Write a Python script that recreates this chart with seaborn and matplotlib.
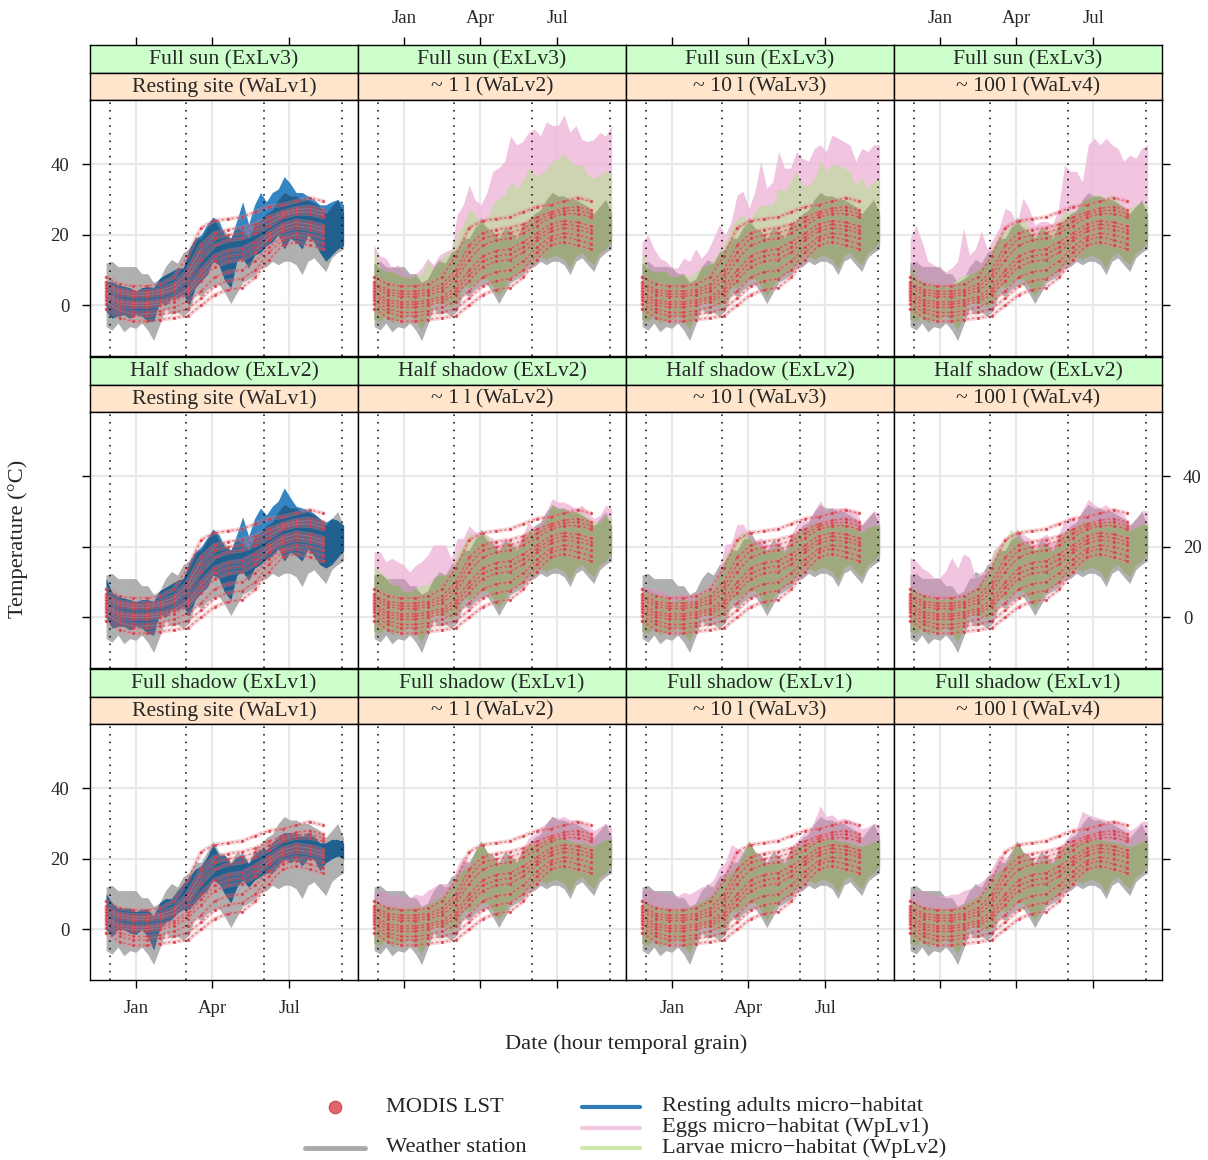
import numpy as np
import pandas as pd
import matplotlib
matplotlib.use("Agg")
import matplotlib.pyplot as plt
import seaborn as sns

sns.set_theme(style="white")
plt.rcParams["font.family"] = ["Liberation Serif", "DejaVu Serif"]

# -------------------------------
# data
# -------------------------------
# weekly reading grid (27 Nov -> 3 Sep) and MODIS grid (16-day)
week_dates = pd.date_range("2013-11-27", periods=41, freq="7D")
lst_dates = pd.date_range("2013-11-27", periods=17, freq="16D")

exposures = ["Full sun (ExLv3)", "Half shadow (ExLv2)", "Full shadow (ExLv1)"]
water_levels = ["Resting site (WaLv1)", "~ 1 l (WaLv2)", "~ 10 l (WaLv3)", "~ 100 l (WaLv4)"]
month_ticks = ["2014-01-01", "2014-04-01", "2014-07-01"]
month_labels = ["Jan", "Apr", "Jul"]
season_starts = ["2013-12-01", "2014-03-01", "2014-06-01", "2014-09-01"]
temp_ticks = [0, 20, 40]

# weather station (daily range envelope)
station_hi = [12, 12.5, 11, 11, 11, 11, 9, 9, 6.5, 7.5, 11, 13, 12, 15, 16, 19, 19, 22, 25, 22, 21,
              19, 22, 21, 19, 23, 24, 26, 27, 30, 32, 31, 31, 30, 30, 29, 28, 26, 28, 30, 26]
station_lo = [-6, -7, -5, -7.5, -6, -6.5, -5, -7, -10, -5.5, -1, -2.5, -2, -3, -1.5, 3.5, 2.5, 4.5, 5.5, 6, 3.5,
              0.5, 3.5, 6.5, 7.5, 8.5, 10.5, 11, 12.5, 11.5, 12.5, 12.5, 11.5, 8.7, 12.5, 13.5, 11.5, 9.6, 13.5, 15, 16]

# resting adults micro-habitat
resting_hi_sun = [6.8, 6.8, 5.8, 5.4, 5, 4, 5, 5.4, 5, 7.7, 8.7, 9.6, 10.6, 10.6, 16, 19, 20, 23, 25, 24, 20,
                  19, 24, 29.4, 23, 28.5, 32, 29.4, 32, 33, 36.5, 34.6, 32, 32, 31, 30, 28.5, 28.5, 29.4, 30, 28.5]
resting_lo_sun = [-1.7, -3.6, -3, -2.6, -3.6, -2.6, -3, -4.5, -4.5, 1, 0, 2, 2, 3, 0, 5, 7, 8.7, 12.5, 11.5, 7,
                  5, 12.5, 13.4, 10.6, 14.3, 15, 17, 18, 20, 16, 19, 18, 16, 20, 18, 15, 12.5, 14.3, 16, 17]
resting_hi_half = [11, 7, 6, 5.5, 5, 4.5, 5, 5, 4.5, 7.5, 8.5, 9.5, 10.5, 11, 15.5, 18.5, 20, 22.5, 25, 23.5, 20,
                   19, 23.5, 28.5, 23, 28, 31, 29, 31.5, 33, 36.7, 34, 31.5, 31, 30.5, 29.5, 28, 27, 28, 27.5, 26]
resting_lo_half = [0, -3, -2.5, -2.5, -3.5, -2.5, -3, -4.5, -5, 1, 0, 2, 2, 3, 0.5, 5, 7, 8.5, 12, 11, 7,
                   5, 12, 13, 10.5, 14, 15, 16.5, 17.5, 19.5, 16, 18.5, 17.5, 16, 19.5, 17.5, 15, 14, 15, 17, 19]
resting_hi_shadow = [10, 7.5, 6, 6, 6, 5, 5.7, 5.7, 3.8, 7.5, 8.7, 8.7, 11, 13, 15, 17, 18, 20.5, 24, 21, 21,
                     18.6, 20.5, 21.5, 18.6, 21.5, 22.6, 22.6, 24.5, 26.4, 27.4, 27.4, 27.4, 26.4, 27.4, 26.4,
                     24.5, 24.5, 25.5, 25.5, 24.5]
resting_lo_shadow = [0, -2, 0, 0, -1, -1.4, 0, -2, -5.7, 0, 2, 2.8, 4.7, 5.7, 5.7, 7.5, 9.4, 11, 14, 13, 10,
                     7.5, 12, 14, 12, 14, 15, 16, 16, 18, 20, 18.9, 20, 18, 20, 20, 16.7, 18.9, 20, 20.8, 20]

# eggs (WpLv1) / larvae (WpLv2) micro-habitat: shared lower envelope, upper envelope per panel
micro_lo = [-4, -4.5, -3, -5, -4, -4, -3, -4.5, -7, -3, 1.5, 0.5, 0.5, -0.5, 1, 5.5, 5, 6.5, 7.5, 7.5, 5.5,
            2.5, 5.5, 8, 9, 10, 12, 12.5, 14, 13, 14, 14, 13, 10.5, 14, 15, 13, 11.5, 15, 16, 18]

eggs_hi_sun_1l = [17, 14, 13.4, 10.6, 11.5, 9.6, 8.2, 9, 10.6, 13.4, 11.5, 14.3, 15.3, 16, 25.7, 28.5, 34, 30, 28.5, 32, 38,
                  39, 40.8, 48, 45.5, 46.4, 49, 50, 48, 52, 51, 51, 54, 49, 51, 47, 46.4, 47, 49, 48, 51]
eggs_hi_sun_10l = [18, 20, 16, 13.4, 12.5, 10.6, 10.6, 13.4, 12.5, 16, 13.4, 15.3, 19, 22.8, 20, 23.8, 31.3, 32.3, 27.5, 32.3, 40.8,
                   33.2, 35, 43.6, 38.9, 38.9, 43.6, 41.7, 40.8, 44.5, 45.5, 43.6, 48.3, 47.4, 46.4, 45.5, 40.8, 44.5, 43.6, 45.5, 45.5]
eggs_hi_sun_100l = [19, 22.8, 18, 12.5, 11.5, 10.6, 9.6, 10.6, 12.5, 21.9, 14.3, 16, 21, 16, 19, 21.9, 27.5, 26.6, 22.8, 30.4, 27.5,
                    22.8, 23.8, 23.8, 22.8, 27.5, 39.8, 38, 38, 35, 45.5, 47.4, 45.5, 47.4, 45.5, 44.5, 40.8, 42.6, 41.7, 44.5, 45.5]
larvae_hi_sun_1l = [16.7, 10.6, 9.6, 9.6, 8.7, 8.2, 7.7, 8.7, 8.7, 12.5, 10.6, 12.5, 14.3, 15.3, 20, 22.8, 27.5, 25.7, 23.8, 24.7, 28.5,
                    30.4, 31.3, 35, 33.2, 35, 38.9, 37, 37, 38.9, 40.8, 41.7, 43, 40.8, 39.8, 39.8, 37, 36, 37, 38, 37.5]
larvae_hi_sun_10l = [15.8, 10.6, 9.6, 9.6, 9.6, 8.2, 8.2, 8.7, 8.2, 9.6, 10.6, 11.5, 12.5, 15.3, 18, 21.9, 24.7, 25.7, 23.8, 26.6, 28.5,
                     28.5, 28.5, 33.2, 32.3, 35, 38, 34, 34, 36, 40.8, 38, 39.8, 39.8, 38.9, 38, 34, 36, 33.2, 35, 36]
larvae_hi_sun_100l = [11.5, 7.7, 6.8, 5.8, 5.8, 5.4, 5.8, 5.8, 7.7, 8.7, 8.7, 9.6, 10.6, 12.5, 17, 20, 21, 22.8, 23.8, 24.7, 21.9,
                      20, 21.9, 21.9, 21, 23.8, 26.6, 26.6, 26.6, 29.4, 30.4, 31.3, 31.3, 30.4, 31.3, 29.4, 27.5, 27.5, 28.5, 29.4, 28.5]

eggs_hi_half_1l = [18.6, 18.6, 15.8, 16.7, 15.8, 14.8, 12.9, 14.8, 15.8, 17.6, 20.5, 20.5, 20.5, 16.7, 22.4, 22.4, 26, 24.2, 24.2, 23.3, 22.4,
                   20.5, 22.4, 21.4, 20.5, 23.3, 27, 25.2, 26, 29.9, 33.7, 32.7, 32.7, 31.8, 30.8, 31.8, 29.9, 28, 28.9, 31.8, 30.8]
eggs_hi_half_10l = [8.5, 8.5, 8, 7.5, 7, 6, 6.5, 7, 5.5, 7, 7.5, 8, 9, 14, 20.7, 21, 26.4, 26.4, 23.6, 21.7, 22.6,
                    20.7, 20.7, 21.7, 18.9, 22.6, 26.4, 27.4, 27.4, 30.2, 33, 30.2, 31, 31, 31, 30.2, 30.2, 26.4, 28.3, 30.2, 29.2]
eggs_hi_half_100l = [17, 16, 14, 13, 11.3, 11.3, 13.2, 17, 14, 18, 17, 11.3, 13, 13, 18.9, 20.7, 21.7, 23.6, 24.5, 23.6, 22.6,
                     20.7, 22.6, 23.6, 20.7, 23.6, 27.4, 28.3, 27.4, 30.2, 33.5, 32, 31, 32, 30.2, 30.2, 29.2, 26.4, 27.4, 30.2, 30.2]
larvae_hi_half_1l = [14.8, 12.9, 12, 9.2, 9.2, 7.3, 7.3, 8.2, 9.2, 9.2, 11, 12, 12, 12.9, 18.6, 20.5, 24.2, 22.4, 24.2, 23.3, 20.5,
                     18.6, 21.4, 21.4, 19.5, 22.4, 25.2, 24.2, 25.2, 28, 31.8, 30.8, 30.8, 29.9, 29.9, 29.9, 28, 27, 27, 28.9, 28]
larvae_hi_half_10l = [7.5, 7, 6.5, 6, 5.5, 4.5, 5, 5.5, 4, 5.5, 6.5, 7.5, 8, 12, 18, 19, 22.6, 24.5, 22.6, 20.7, 20,
                      19, 19.5, 20.5, 18, 21, 24, 25, 25.5, 26.5, 27, 26, 27, 26.5, 27, 26, 25.5, 24, 25.5, 26, 26]
larvae_hi_half_100l = [8, 7.5, 6.5, 6, 5.5, 5, 5.5, 6, 5, 6, 7, 8, 10, 12, 18, 20, 22, 25, 23, 21, 20.5,
                       19.5, 20, 21, 18.5, 21.5, 24.5, 25, 25.5, 27, 27.5, 26.5, 27, 27, 27.5, 26.5, 26, 24.5, 25.5, 26.5, 26.5]

eggs_hi_shadow_1l = [10, 11, 10.5, 9.5, 10, 9.5, 9, 10, 9.5, 11, 12, 13, 13, 13, 18, 20.7, 19, 22, 22.6, 21, 20,
                     18, 20.7, 21, 19, 22, 26, 27, 29, 30, 32, 31.5, 32, 31, 31, 30.5, 29.5, 28, 29, 30, 29]
eggs_hi_shadow_10l = [11, 11.5, 11, 10.5, 10, 10, 9.5, 10.5, 10, 11, 12, 12.5, 14, 17.5, 19, 24, 23, 22, 21.5, 22, 21,
                      19, 20, 20, 19.5, 22.5, 25, 27, 28, 30.7, 35, 32, 32.5, 31, 31.5, 31, 30, 28.5, 29, 30, 29.7]
eggs_hi_shadow_100l = [10.5, 11, 11, 10.5, 10, 9.5, 9.5, 10, 10, 11, 11.5, 12.5, 13.5, 15, 18, 21, 20, 22, 23, 22, 21,
                       19, 20, 20.5, 19.5, 22, 25, 27, 28.5, 33.5, 32.5, 32, 31.5, 31, 30.6, 30.6, 29.5, 28, 29, 30.6, 30.6]
larvae_hi_shadow_1l = [7.5, 7, 6.5, 6.5, 6, 6, 6, 6.5, 6, 7, 8, 9, 10, 12, 15, 17, 18, 22, 25, 22, 20,
                       18.5, 20, 20.5, 19, 22, 24.5, 24, 24.5, 25.5, 26.4, 26, 26, 25, 24.5, 24.5, 24, 23.5, 24.5, 25.5, 25.5]
larvae_hi_shadow_10l = [7, 7.5, 6.5, 6, 6, 6, 5.5, 6, 6, 7, 8, 9, 10, 12, 15, 16, 18, 21, 25, 22, 20,
                        18.5, 19.5, 20, 18.5, 21, 23.5, 24, 24.5, 25, 26, 25.5, 26, 25, 25, 24.5, 24, 23.5, 24, 25, 25]
larvae_hi_shadow_100l = [7, 7.5, 6.5, 6, 6, 6, 5.5, 6, 6, 7, 8, 9, 10, 12, 15, 16.5, 18, 21, 25, 22, 20,
                         18.5, 19.5, 20, 18.5, 21, 23.5, 24, 24.5, 25, 25.5, 25.5, 25.5, 25, 25, 24.5, 24, 23.5, 24, 25, 25]

# MODIS LST pixels (coolest -> warmest)
lst_1 = [-1.0, -3.5, -4.5, -4.5, -4.0, -3.5, -3.0, 0.0, 3.0, 4.5, 5.0, 8.0, 13.0, 17.0, 18.0, 17.0, 16.0]
lst_2 = [0.5, -2.0, -3.0, -3.0, -2.5, -2.0, -1.0, 2.0, 5.5, 7.0, 7.5, 10.0, 15.0, 18.5, 19.5, 18.5, 17.5]
lst_3 = [1.5, -1.0, -2.0, -2.0, -1.5, -0.5, 1.0, 4.0, 8.0, 9.5, 10.0, 12.5, 16.5, 19.5, 20.5, 20.0, 19.0]
lst_4 = [2.5, 0.0, -0.5, -0.5, 0.0, 1.0, 3.0, 7.0, 11.0, 12.5, 13.0, 15.0, 18.5, 21.0, 22.0, 21.5, 20.5]
lst_5 = [3.2, 0.8, 0.3, 0.3, 0.8, 1.8, 4.0, 8.5, 12.5, 14.0, 14.5, 16.5, 19.5, 22.0, 23.0, 22.5, 21.5]
lst_6 = [4.0, 1.5, 1.0, 1.0, 1.5, 2.5, 5.0, 10.0, 14.0, 15.5, 16.0, 18.0, 20.5, 23.0, 24.0, 23.5, 22.5]
lst_7 = [5.0, 3.0, 2.5, 2.5, 3.0, 4.0, 7.0, 13.0, 17.0, 18.5, 19.0, 20.5, 22.5, 25.0, 26.0, 26.0, 25.0]
lst_8 = [5.8, 3.8, 3.2, 3.2, 3.8, 5.0, 8.5, 15.0, 19.0, 20.0, 20.5, 21.8, 23.8, 25.8, 26.8, 27.0, 26.0]
lst_9 = [6.5, 4.5, 4.0, 4.0, 4.5, 6.0, 10.0, 17.0, 20.5, 21.5, 22.0, 23.0, 25.0, 26.5, 27.5, 28.0, 27.0]
lst_10 = [8.0, 6.0, 5.5, 5.5, 6.0, 8.0, 14.0, 22.0, 24.0, 24.5, 25.0, 26.5, 28.0, 28.5, 29.5, 30.5, 29.5]

resting_hi = [resting_hi_sun, resting_hi_half, resting_hi_shadow]
resting_lo = [resting_lo_sun, resting_lo_half, resting_lo_shadow]
eggs_hi = [[eggs_hi_sun_1l, eggs_hi_sun_10l, eggs_hi_sun_100l],
           [eggs_hi_half_1l, eggs_hi_half_10l, eggs_hi_half_100l],
           [eggs_hi_shadow_1l, eggs_hi_shadow_10l, eggs_hi_shadow_100l]]
larvae_hi = [[larvae_hi_sun_1l, larvae_hi_sun_10l, larvae_hi_sun_100l],
             [larvae_hi_half_1l, larvae_hi_half_10l, larvae_hi_half_100l],
             [larvae_hi_shadow_1l, larvae_hi_shadow_10l, larvae_hi_shadow_100l]]

lst_curves = [lst_1, lst_2, lst_3, lst_4, lst_5, lst_6, lst_7, lst_8, lst_9, lst_10]
lst = pd.DataFrame({
    "date": np.tile(lst_dates, len(lst_curves)),
    "temp": np.concatenate(lst_curves),
    "curve": np.repeat(np.arange(len(lst_curves)), len(lst_dates)),
})

# -------------------------------
# layout (pixels)
# -------------------------------
W, H = 1208, 1160
COL_LEFT = [90, 358, 626, 894]
PANEL_W = 268
ROW_TOP = [45, 357, 669]
STRIP_H = 27.5
PLOT_H = 255.5

GRAY = "#a8a8a8"
BLUE = "#2a7fbf"
BLUE_CORE = "#1d527c"
PINK = "#efbadb"
MAUVE = "#9e7d92"
GREEN = "#c0da9e"
OLIVE = "#84925f"
FS_STRIP = 15.6
FS_TICK = 13.5
FS_LAB = 16.2


def rect(x, y, w, h):
    return [x / W, 1 - (y + h) / H, w / W, h / H]


def overlap(lo_a, hi_a, lo_b, hi_b):
    lo = np.maximum(lo_a, lo_b)
    hi = np.minimum(hi_a, hi_b)
    return lo, np.maximum(hi, lo)


fig = plt.figure(figsize=(W / 100, H / 100), dpi=100)
xlim = (pd.Timestamp("2013-11-08"), pd.Timestamp("2014-09-20"))
xt = pd.to_datetime(month_ticks)

for r in range(3):
    for c in range(4):
        left = COL_LEFT[c]
        top = ROW_TOP[r]

        # strips
        for k, (txt, bg) in enumerate([(exposures[r], "#ccffcc"), (water_levels[c], "#ffe5cc")]):
            sax = fig.add_axes(rect(left, top + k * STRIP_H, PANEL_W, STRIP_H))
            sax.set_facecolor(bg)
            sax.set_xlim(xlim)
            sax.set_yticks([])
            sax.text(0.5, 0.46, txt, ha="center", va="center", transform=sax.transAxes, fontsize=FS_STRIP)
            for sp in sax.spines.values():
                sp.set_color("black")
                sp.set_linewidth(1)
            if r == 0 and k == 0:
                sax.set_xticks(xt)
                sax.set_xticklabels(month_labels)
                sax.tick_params(axis="x", top=True, bottom=False, labeltop=(c % 2 == 1), labelbottom=False,
                                direction="out", length=6, width=1, pad=7, labelsize=FS_TICK, color="black")
            else:
                sax.set_xticks([])

        ax = fig.add_axes(rect(left, top + 2 * STRIP_H, PANEL_W, PLOT_H))
        ax.set_axisbelow(True)
        ax.grid(True, color="#e8e8e8", lw=1.6)

        ax.fill_between(week_dates, station_lo, station_hi, color=GRAY, alpha=0.9, lw=0)
        if c == 0:
            ax.fill_between(week_dates, resting_lo[r], resting_hi[r], color=BLUE, alpha=0.95, lw=0)
            lo, hi = overlap(resting_lo[r], resting_hi[r], station_lo, station_hi)
            ax.fill_between(week_dates, lo, hi, color=BLUE_CORE, alpha=0.7, lw=0)
        else:
            e_hi = eggs_hi[r][c - 1]
            l_hi = larvae_hi[r][c - 1]
            ax.fill_between(week_dates, micro_lo, e_hi, color=PINK, alpha=0.85, lw=0)
            lo, hi = overlap(micro_lo, e_hi, station_lo, station_hi)
            ax.fill_between(week_dates, lo, hi, color=MAUVE, alpha=0.45, lw=0)
            ax.fill_between(week_dates, micro_lo, l_hi, color=GREEN, alpha=0.7, lw=0)
            lo, hi = overlap(micro_lo, l_hi, station_lo, station_hi)
            ax.fill_between(week_dates, lo, hi, color=OLIVE, alpha=0.55, lw=0)

        sns.lineplot(data=lst, x="date", y="temp", units="curve", estimator=None,
                     color="#e8838b", alpha=0.32, lw=3.2, ax=ax)
        sns.lineplot(data=lst, x="date", y="temp", units="curve", estimator=None,
                     color="#d3303a", alpha=0.6, lw=0.9, linestyle=(0, (2, 2)), ax=ax)
        sns.scatterplot(data=lst, x="date", y="temp", color="#d81e2c", s=5, lw=0, alpha=0.85, ax=ax)

        for d in season_starts:
            ax.axvline(pd.Timestamp(d), color="black", lw=1.1, ls=(0, (1, 4)), zorder=5)

        ax.set_xlim(xlim)
        ax.set_ylim(-14.2, 58.2)
        ax.set_xlabel("")
        ax.set_ylabel("")
        ax.set_xticks(xt)
        ax.set_xticklabels(month_labels)
        ax.set_yticks(temp_ticks)
        ax.tick_params(axis="x", bottom=(r == 2), labelbottom=(r == 2 and c % 2 == 0), top=False, labeltop=False,
                       direction="out", length=6, width=1, pad=9, labelsize=FS_TICK, color="black")
        ax.tick_params(axis="y", left=(c == 0), labelleft=(c == 0 and r != 1),
                       right=(c == 3), labelright=(c == 3 and r == 1),
                       direction="out", length=6, width=1, pad=9, labelsize=FS_TICK, color="black")
        for sp in ax.spines.values():
            sp.set_color("black")
            sp.set_linewidth(1)

# axis titles and legend drawn on an overlay in pixel units
lax = fig.add_axes([0, 0, 1, 1], facecolor="none")
lax.set_xlim(0, W)
lax.set_ylim(H, 0)
lax.axis("off")
lax.text(18, 539, "Temperature (°C)", rotation=90, ha="center", va="center", fontsize=FS_LAB)
lax.text(626, 1044, "Date (hour temporal grain)", ha="center", va="center", fontsize=FS_LAB)

lax.plot([335], [1107], "o", ms=9, color="#e06470", mec="#c84a55", mew=0.8)
lax.text(386, 1107, "MODIS LST", va="center", fontsize=FS_LAB)
lax.plot([305, 365], [1148, 1148], color="#aaaaaa", lw=3.5, solid_capstyle="round")
lax.text(386, 1148, "Weather station", va="center", fontsize=FS_LAB)
lax.plot([582, 640], [1107, 1107], color="#2e7cb8", lw=3, solid_capstyle="round")
lax.text(662, 1107, "Resting adults micro\u2212habitat", va="center", fontsize=FS_LAB)
lax.plot([582, 640], [1128, 1128], color="#f4c7e0", lw=3, solid_capstyle="round")
lax.text(662, 1127, "Eggs micro\u2212habitat (WpLv1)", va="center", fontsize=FS_LAB)
lax.plot([582, 640], [1148, 1148], color="#cce7a8", lw=3, solid_capstyle="round")
lax.text(662, 1148, "Larvae micro\u2212habitat (WpLv2)", va="center", fontsize=FS_LAB)

fig.savefig("out.png", dpi=100, facecolor="white")
